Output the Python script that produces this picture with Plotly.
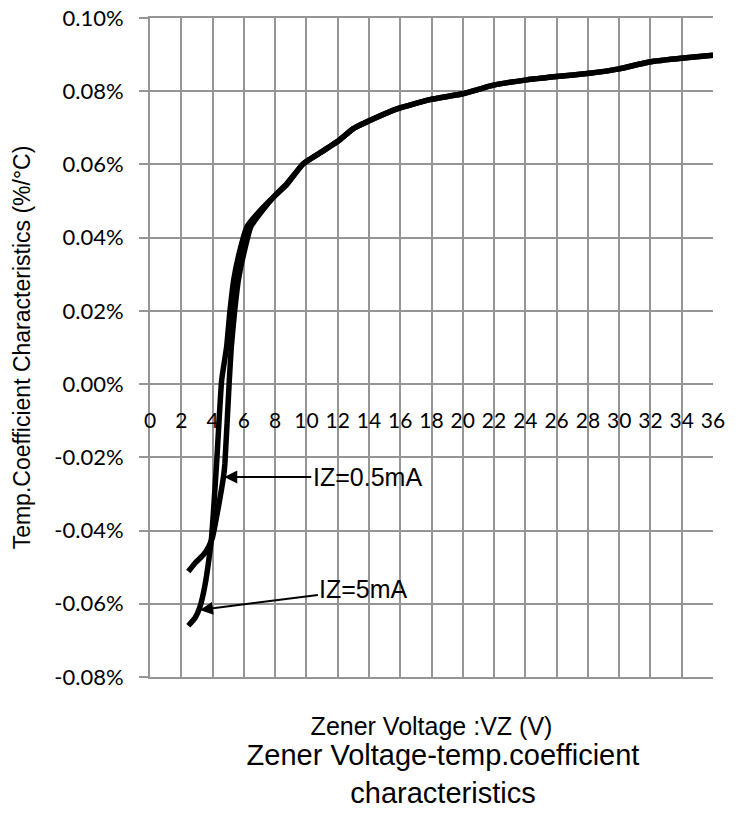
import plotly.graph_objects as go

# ---- data (temperature coefficient in %/°C) ----
vz_05ma = [2.45, 2.9, 3.4, 3.75, 4.0, 4.3, 4.7, 4.79, 5.07, 5.2, 5.4, 5.65, 6.0, 6.45, 7.2, 8.1,
           8.75, 9.8, 11.0, 12.1, 13.0, 14.3, 15.8, 17.9, 20.0, 21.9, 24.1, 26.0, 28.1, 30.0,
           31.9, 34.1, 36.0]
tc_05ma = [-0.0512, -0.0488, -0.0467, -0.0444, -0.0418, -0.0353, -0.0253, -0.0216, 0.001, 0.0102,
           0.0194, 0.0284, 0.0357, 0.043, 0.0475, 0.052, 0.0548, 0.0602, 0.0635, 0.0666, 0.0698,
           0.0725, 0.0752, 0.0777, 0.0793, 0.0816, 0.0831, 0.084, 0.0849, 0.0861, 0.088, 0.0891,
           0.0898]

vz_5ma = [2.45, 2.88, 3.2, 3.5, 3.79, 3.94, 4.05, 4.26, 4.58, 4.9, 5.1, 5.35, 5.7, 6.2, 7.0, 8.0,
          8.75, 9.8, 11.0, 12.1, 13.0, 14.3, 15.8, 17.9, 20.0, 21.9, 24.1, 26.0, 28.1, 30.0,
          31.9, 34.1, 36.0]
tc_5ma = [-0.066, -0.0639, -0.0608, -0.0553, -0.0471, -0.0417, -0.0353, -0.0216, 0.001, 0.0102,
          0.0194, 0.0284, 0.0357, 0.043, 0.0472, 0.0515, 0.0545, 0.0602, 0.0635, 0.0666, 0.0698,
          0.0725, 0.0752, 0.0777, 0.0793, 0.0816, 0.0831, 0.084, 0.0849, 0.0861, 0.088, 0.0891,
          0.0898]

x_range = [0, 36]
y_range = [-0.08, 0.10]
x_ticks = list(range(0, 37, 2))
y_ticks = [-0.08, -0.06, -0.04, -0.02, 0.0, 0.02, 0.04, 0.06, 0.08, 0.10]
y_tick_text = ["-0.08%", "-0.06%", "-0.04%", "-0.02%", "0.00%", "0.02%", "0.04%", "0.06%",
               "0.08%", "0.10%"]

labels = ["IZ=0.5mA", "IZ=5mA"]
label_points_x = [4.75, 3.19]      # where each arrow touches its curve
label_points_y = [-0.0254, -0.0617]

title_text = "Zener Voltage-temp.coefficient<br>characteristics"
x_title = "Zener Voltage :VZ (V)"
y_title = "Temp.Coefficient Characteristics (%/°C)"

GRID = "#959595"
SANS = "Liberation Sans, Arial, sans-serif"
TICKFONT = dict(family="Lato", size=21, color="black")

# page body has an 8px margin, so the figure is drawn 8px in from the top-left
FIG_W, FIG_H = 734, 805

fig = go.Figure()
fig.add_trace(go.Scatter(x=vz_05ma, y=tc_05ma, mode="lines", name=labels[0],
                         line=dict(color="black", width=5.5, shape="spline", smoothing=0.4),
                         xaxis="x", yaxis="y", showlegend=False))
fig.add_trace(go.Scatter(x=vz_5ma, y=tc_5ma, mode="lines", name=labels[1],
                         line=dict(color="black", width=5.5, shape="spline", smoothing=0.4),
                         xaxis="x2", yaxis="y", showlegend=False))

zero_frac = (0 - y_range[0]) / (y_range[1] - y_range[0])

fig.update_layout(
    width=FIG_W, height=FIG_H,
    margin=dict(l=142, r=29, t=10, b=136, autoexpand=False),
    paper_bgcolor="white", plot_bgcolor="white",
    font=dict(family=SANS, color="black"),
    title=dict(text=title_text, x=435 / FIG_W, xanchor="center", xref="container",
               y=1 - 757 / FIG_H, yanchor="top", yref="container", automargin=False,
               font=dict(family=SANS, size=29, color="black")),
    xaxis=dict(range=x_range, tickvals=x_ticks, showticklabels=False, ticks="",
               showgrid=True, gridcolor=GRID, gridwidth=2, zeroline=False,
               showline=True, mirror=True, linecolor=GRID, linewidth=2,
               automargin=False,
               title=dict(text=x_title, standoff=39,
                          font=dict(family=SANS, size=25, color="black"))),
    xaxis2=dict(range=x_range, tickvals=x_ticks, overlaying="x", anchor="free",
                position=zero_frac, side="bottom", showgrid=False, zeroline=False,
                showline=False, ticks="", tickfont=TICKFONT, ticklabelstandoff=22,
                ticklabeloverflow="allow", automargin=False),
    yaxis=dict(range=y_range, tickvals=y_ticks, ticktext=y_tick_text,
               showgrid=True, gridcolor=GRID, gridwidth=2, zeroline=False,
               showline=True, linecolor=GRID, linewidth=2,
               ticks="outside", ticklen=9, tickwidth=2, tickcolor=GRID,
               tickfont=dict(family="Lato", size=22, color="black"), ticklabelstandoff=11,
               ticklabeloverflow="allow", automargin=False,
               title=dict(text=y_title, standoff=17,
                          font=dict(family=SANS, size=23, color="black"))),
)

arrow_offsets = [(143, 0), (164, -21)]
for txt, px, py, (ax, ay) in zip(labels, label_points_x, label_points_y, arrow_offsets):
    fig.add_annotation(x=px, y=py, xref="x", yref="y", text=txt, showarrow=True,
                       ax=ax, ay=ay, arrowhead=2, arrowsize=1.3, arrowwidth=2,
                       arrowcolor="black", bgcolor="rgba(0,0,0,0)",
                       font=dict(family=SANS, size=25, color="black"))

fig.write_html("out.html")
